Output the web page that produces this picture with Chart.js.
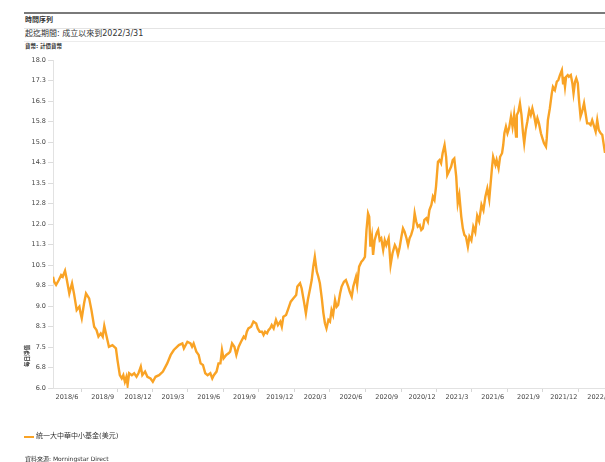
<!DOCTYPE html>
<html><head><meta charset="utf-8">
<script src="https://cdn.jsdelivr.net/npm/chart.js@4"></script>
<style>
body{margin:0;width:605px;height:462px;overflow:hidden;background:#fff;font-family:"DejaVu Sans","Noto Sans CJK TC",sans-serif;color:#333;position:relative}
.abs{position:absolute;white-space:nowrap}
</style></head><body>
<div class="abs" style="left:24px;top:12px;width:581px;height:2px;background:#7a7a7a"></div>
<div class="abs" style="left:25px;top:16px;font-size:7px;font-weight:bold;line-height:9px">時間序列</div>
<div class="abs" style="left:24px;top:28px;width:581px;height:1px;background:#e4e4e4"></div>
<div class="abs" style="left:25px;top:29px;font-size:8px;line-height:10px">起迄期間: 成立以來到2022/3/31</div>
<div class="abs" style="left:24px;top:41px;width:581px;height:1px;background:#ececec"></div>
<div class="abs" style="left:25px;top:43px;font-size:5.5px;font-weight:bold;line-height:7px">貨幣: 計價貨幣</div>
<div class="abs" style="left:0;top:50px;width:605px;height:362px"><canvas id="c" width="605" height="362"></canvas></div>
<div class="abs" style="left:27px;top:356px;font-size:5.5px;font-weight:bold;transform:translate(-50%,-50%) rotate(-90deg)">每日淨值</div>
<div class="abs" style="left:24px;top:436px;width:10px;height:2px;background:#F9A325"></div>
<div class="abs" style="left:36px;top:432px;font-size:7px;line-height:9px">統一大中華中小基金(美元)</div>
<div class="abs" style="left:25px;top:455px;font-size:6px;line-height:8px">資料來源: Morningstar Direct</div>
<script>
const seriesName = '統一大中華中小基金(美元)';
const dates = ['2018-05-10','2018-05-13','2018-05-18','2018-05-25','2018-05-31','2018-06-04','2018-06-10','2018-06-14','2018-06-21','2018-06-28','2018-07-03','2018-07-10','2018-07-17','2018-07-20','2018-07-23','2018-07-29','2018-08-03','2018-08-11','2018-08-17','2018-08-24','2018-08-30','2018-09-04','2018-09-10','2018-09-15','2018-09-19','2018-09-25','2018-10-01','2018-10-10','2018-10-19','2018-10-23','2018-10-29','2018-11-03','2018-11-07','2018-11-11','2018-11-15','2018-11-18','2018-11-22','2018-11-29','2018-12-05','2018-12-11','2018-12-16','2018-12-22','2018-12-26','2019-01-02','2019-01-08','2019-01-16','2019-01-22','2019-01-29','2019-02-07','2019-02-17','2019-02-28','2019-03-09','2019-03-17','2019-03-30','2019-04-08','2019-04-12','2019-04-21','2019-04-29','2019-05-03','2019-05-07','2019-05-14','2019-05-20','2019-05-25','2019-05-31','2019-06-06','2019-06-12','2019-06-19','2019-06-24','2019-06-28','2019-07-05','2019-07-10','2019-07-15','2019-07-19','2019-07-23','2019-07-30','2019-08-05','2019-08-09','2019-08-14','2019-08-20','2019-08-25','2019-08-31','2019-09-06','2019-09-13','2019-09-17','2019-09-21','2019-09-25','2019-10-02','2019-10-08','2019-10-15','2019-10-19','2019-10-24','2019-10-30','2019-11-03','2019-11-07','2019-11-12','2019-11-16','2019-11-20','2019-11-24','2019-11-29','2019-12-05','2019-12-10','2019-12-16','2019-12-20','2019-12-24','2019-12-31','2020-01-06','2020-01-12','2020-01-19','2020-01-26','2020-01-29','2020-02-05','2020-02-09','2020-02-15','2020-02-20','2020-02-25','2020-03-02','2020-03-06','2020-03-10','2020-03-14','2020-03-19','2020-03-23','2020-03-27','2020-04-01','2020-04-05','2020-04-09','2020-04-13','2020-04-18','2020-04-22','2020-04-26','2020-04-30','2020-05-05','2020-05-09','2020-05-13','2020-05-18','2020-05-22','2020-05-28','2020-06-02','2020-06-08','2020-06-12','2020-06-17','2020-06-21','2020-06-28','2020-07-01','2020-07-06','2020-07-12','2020-07-16','2020-07-21','2020-07-25','2020-07-29','2020-08-01','2020-08-04','2020-08-08','2020-08-11','2020-08-15','2020-08-20','2020-08-24','2020-08-28','2020-09-01','2020-09-06','2020-09-10','2020-09-14','2020-09-20','2020-09-25','2020-09-30','2020-10-06','2020-10-10','2020-10-14','2020-10-18','2020-10-23','2020-10-27','2020-10-31','2020-11-05','2020-11-09','2020-11-13','2020-11-17','2020-11-22','2020-11-26','2020-11-30','2020-12-04','2020-12-09','2020-12-13','2020-12-17','2020-12-21','2020-12-26','2020-12-30','2021-01-03','2021-01-08','2021-01-12','2021-01-16','2021-01-20','2021-01-25','2021-01-29','2021-02-02','2021-02-06','2021-02-11','2021-02-15','2021-02-18','2021-02-22','2021-02-28','2021-03-04','2021-03-08','2021-03-13','2021-03-17','2021-03-21','2021-03-26','2021-03-30','2021-04-03','2021-04-07','2021-04-12','2021-04-16','2021-04-21','2021-04-26','2021-05-01','2021-05-06','2021-05-11','2021-05-17','2021-05-22','2021-05-27','2021-06-01','2021-06-06','2021-06-13','2021-06-16','2021-06-22','2021-06-25','2021-06-30','2021-07-04','2021-07-09','2021-07-12','2021-07-15','2021-07-19','2021-07-23','2021-07-27','2021-08-01','2021-08-05','2021-08-09','2021-08-14','2021-08-16','2021-08-20','2021-08-24','2021-08-28','2021-09-01','2021-09-04','2021-09-08','2021-09-12','2021-09-17','2021-09-21','2021-09-25','2021-09-30','2021-10-04','2021-10-08','2021-10-12','2021-10-17','2021-10-21','2021-10-25','2021-10-30','2021-11-01','2021-11-04','2021-11-09','2021-11-14','2021-11-17','2021-11-22','2021-11-27','2021-12-01','2021-12-05','2021-12-10','2021-12-13','2021-12-15','2021-12-18','2021-12-21','2021-12-25','2021-12-28','2022-01-02','2022-01-06','2022-01-09','2022-01-13','2022-01-16','2022-01-20','2022-01-23','2022-01-27','2022-01-31','2022-02-05','2022-02-09','2022-02-13','2022-02-18','2022-02-22','2022-02-26','2022-03-02','2022-03-07','2022-03-11','2022-03-15','2022-03-20','2022-03-24','2022-03-31'];
const navValues = [10.07,9.89,9.77,9.95,10.13,10.07,10.29,10.01,9.46,9.83,9.46,8.85,8.98,8.73,8.55,9.10,9.46,9.28,8.85,8.24,8.12,7.88,8.00,7.88,8.27,7.88,7.51,7.57,7.45,7.02,6.47,6.35,6.47,6.23,6.41,6.11,6.54,6.47,6.54,6.41,6.54,6.78,6.47,6.60,6.41,6.35,6.23,6.41,6.47,6.60,6.90,7.21,7.39,7.57,7.63,7.45,7.69,7.63,7.51,7.63,7.33,7.21,6.90,6.84,6.54,6.47,6.54,6.35,6.47,6.60,6.90,6.90,7.39,7.08,7.21,7.27,7.33,7.63,7.51,7.21,7.51,7.69,7.88,7.82,8.06,8.18,8.24,8.43,8.36,8.18,8.06,8.06,7.94,8.06,8.00,8.12,8.18,8.30,8.18,8.49,8.30,8.43,8.24,8.61,8.67,8.91,9.16,9.28,9.40,9.71,9.83,9.65,9.16,8.73,9.22,9.65,9.95,10.44,10.80,10.26,10.07,9.83,9.28,8.75,8.37,8.18,8.49,8.43,8.85,8.67,9.22,8.97,9.04,9.46,9.71,9.89,9.95,9.71,9.52,9.34,9.71,10.07,9.77,10.44,10.62,10.68,10.80,11.78,12.39,12.27,11.17,11.54,10.87,11.41,11.66,11.78,11.41,11.48,11.05,11.41,11.23,11.48,10.50,10.93,11.23,11.11,10.87,11.11,11.54,11.84,11.72,11.48,11.23,11.48,11.60,11.84,12.39,12.09,11.90,11.96,11.78,11.84,12.15,12.21,12.09,12.51,12.70,13.00,12.88,13.37,14.28,14.34,14.22,14.59,14.89,14.46,13.79,13.91,14.10,14.34,14.40,13.73,12.76,13.06,12.27,11.84,11.60,11.54,11.17,11.54,11.40,11.90,11.70,12.30,12.10,12.70,12.50,13.00,13.30,12.90,14.04,14.46,14.16,14.34,14.04,14.46,14.59,14.89,15.32,15.56,15.32,15.50,15.93,15.56,15.99,15.20,15.99,16.11,16.41,15.99,15.32,14.95,15.44,15.74,16.17,15.99,16.23,15.93,15.62,15.87,15.68,15.32,15.13,14.95,14.83,15.13,15.80,16.23,16.78,17.02,16.90,17.21,17.27,17.45,17.63,17.15,17.39,17.02,17.39,17.45,17.39,17.45,17.15,16.78,17.21,17.33,17.15,16.54,15.93,16.11,16.42,16.05,15.68,15.68,15.62,15.80,15.62,15.38,15.80,15.44,15.32,15.26,14.60];
const quarterLabels = ['2018/6','2018/9','2018/12','2019/3','2019/6','2019/9','2019/12','2020/3','2020/6','2020/9','2020/12','2021/3','2021/6','2021/9','2021/12','2022/3'];
const yTicks = [6.0,6.75,7.5,8.25,9.0,9.75,10.5,11.25,12.0,12.75,13.5,14.25,15.0,15.75,16.5,17.25,18.0];

const DAY = 86400000;
const toDay = s => { const [y,m,d] = s.split('-').map(Number); return Date.UTC(y, m-1, d) / DAY; };
const labelDay = l => { const [y,m] = l.split('/').map(Number); return Date.UTC(y, m-1, 15) / DAY; };
const points = dates.map((d,i) => ({x: toDay(d), y: navValues[i]}));
const xMin = toDay(dates[0]), xMax = toDay(dates[dates.length-1]);
const MARK_OFFSET = 37;
const font = {family: '"DejaVu Sans","Noto Sans CJK TC",sans-serif', size: 6.5};

new Chart(document.getElementById('c'), {
  type: 'line',
  data: { datasets: [{
    label: seriesName, data: points,
    borderColor: '#F9A325', borderWidth: 2.4, pointRadius: 0, tension: 0, fill: false
  }]},
  options: {
    responsive: false, animation: false, devicePixelRatio: 1,
    layout: { padding: { top: 10, left: 0, right: 0, bottom: 0 } },
    plugins: { legend: { display: false }, tooltip: { enabled: false } },
    scales: {
      x: {
        type: 'linear', min: xMin, max: xMax,
        afterBuildTicks: s => {
          const t = [];
          quarterLabels.forEach(l => {
            const d = labelDay(l);
            t.push({value: d});
            if (d + MARK_OFFSET <= xMax) t.push({value: d + MARK_OFFSET});
          });
          s.ticks = t;
        },
        afterFit: s => { s.height = 24; s.paddingLeft = 0; s.paddingRight = 0; },
        ticks: {
          autoSkip: false, maxRotation: 0, minRotation: 0, padding: 1,
          color: '#444', font,
          callback: (v, i) => (i % 2 === 0 ? quarterLabels[i/2] : '')
        },
        grid: {
          drawOnChartArea: false, drawTicks: true, tickLength: 4,
          color: c => (c.index % 2 === 1 ? '#d6d6d6' : 'rgba(0,0,0,0)')
        },
        border: { display: true, color: '#e2e2e2', width: 1 }
      },
      y: {
        min: 6, max: 18,
        afterBuildTicks: s => { s.ticks = yTicks.map(v => ({value: v})); },
        afterFit: s => { s.width = 53; },
        ticks: { color: '#444', font, padding: 2, callback: v => Number(v).toFixed(1) },
        grid: { drawOnChartArea: false, drawTicks: true, tickLength: 5, color: '#dcdcdc' },
        border: { display: true, color: '#e2e2e2', width: 1 }
      }
    }
  }
});
</script>
</body></html>
